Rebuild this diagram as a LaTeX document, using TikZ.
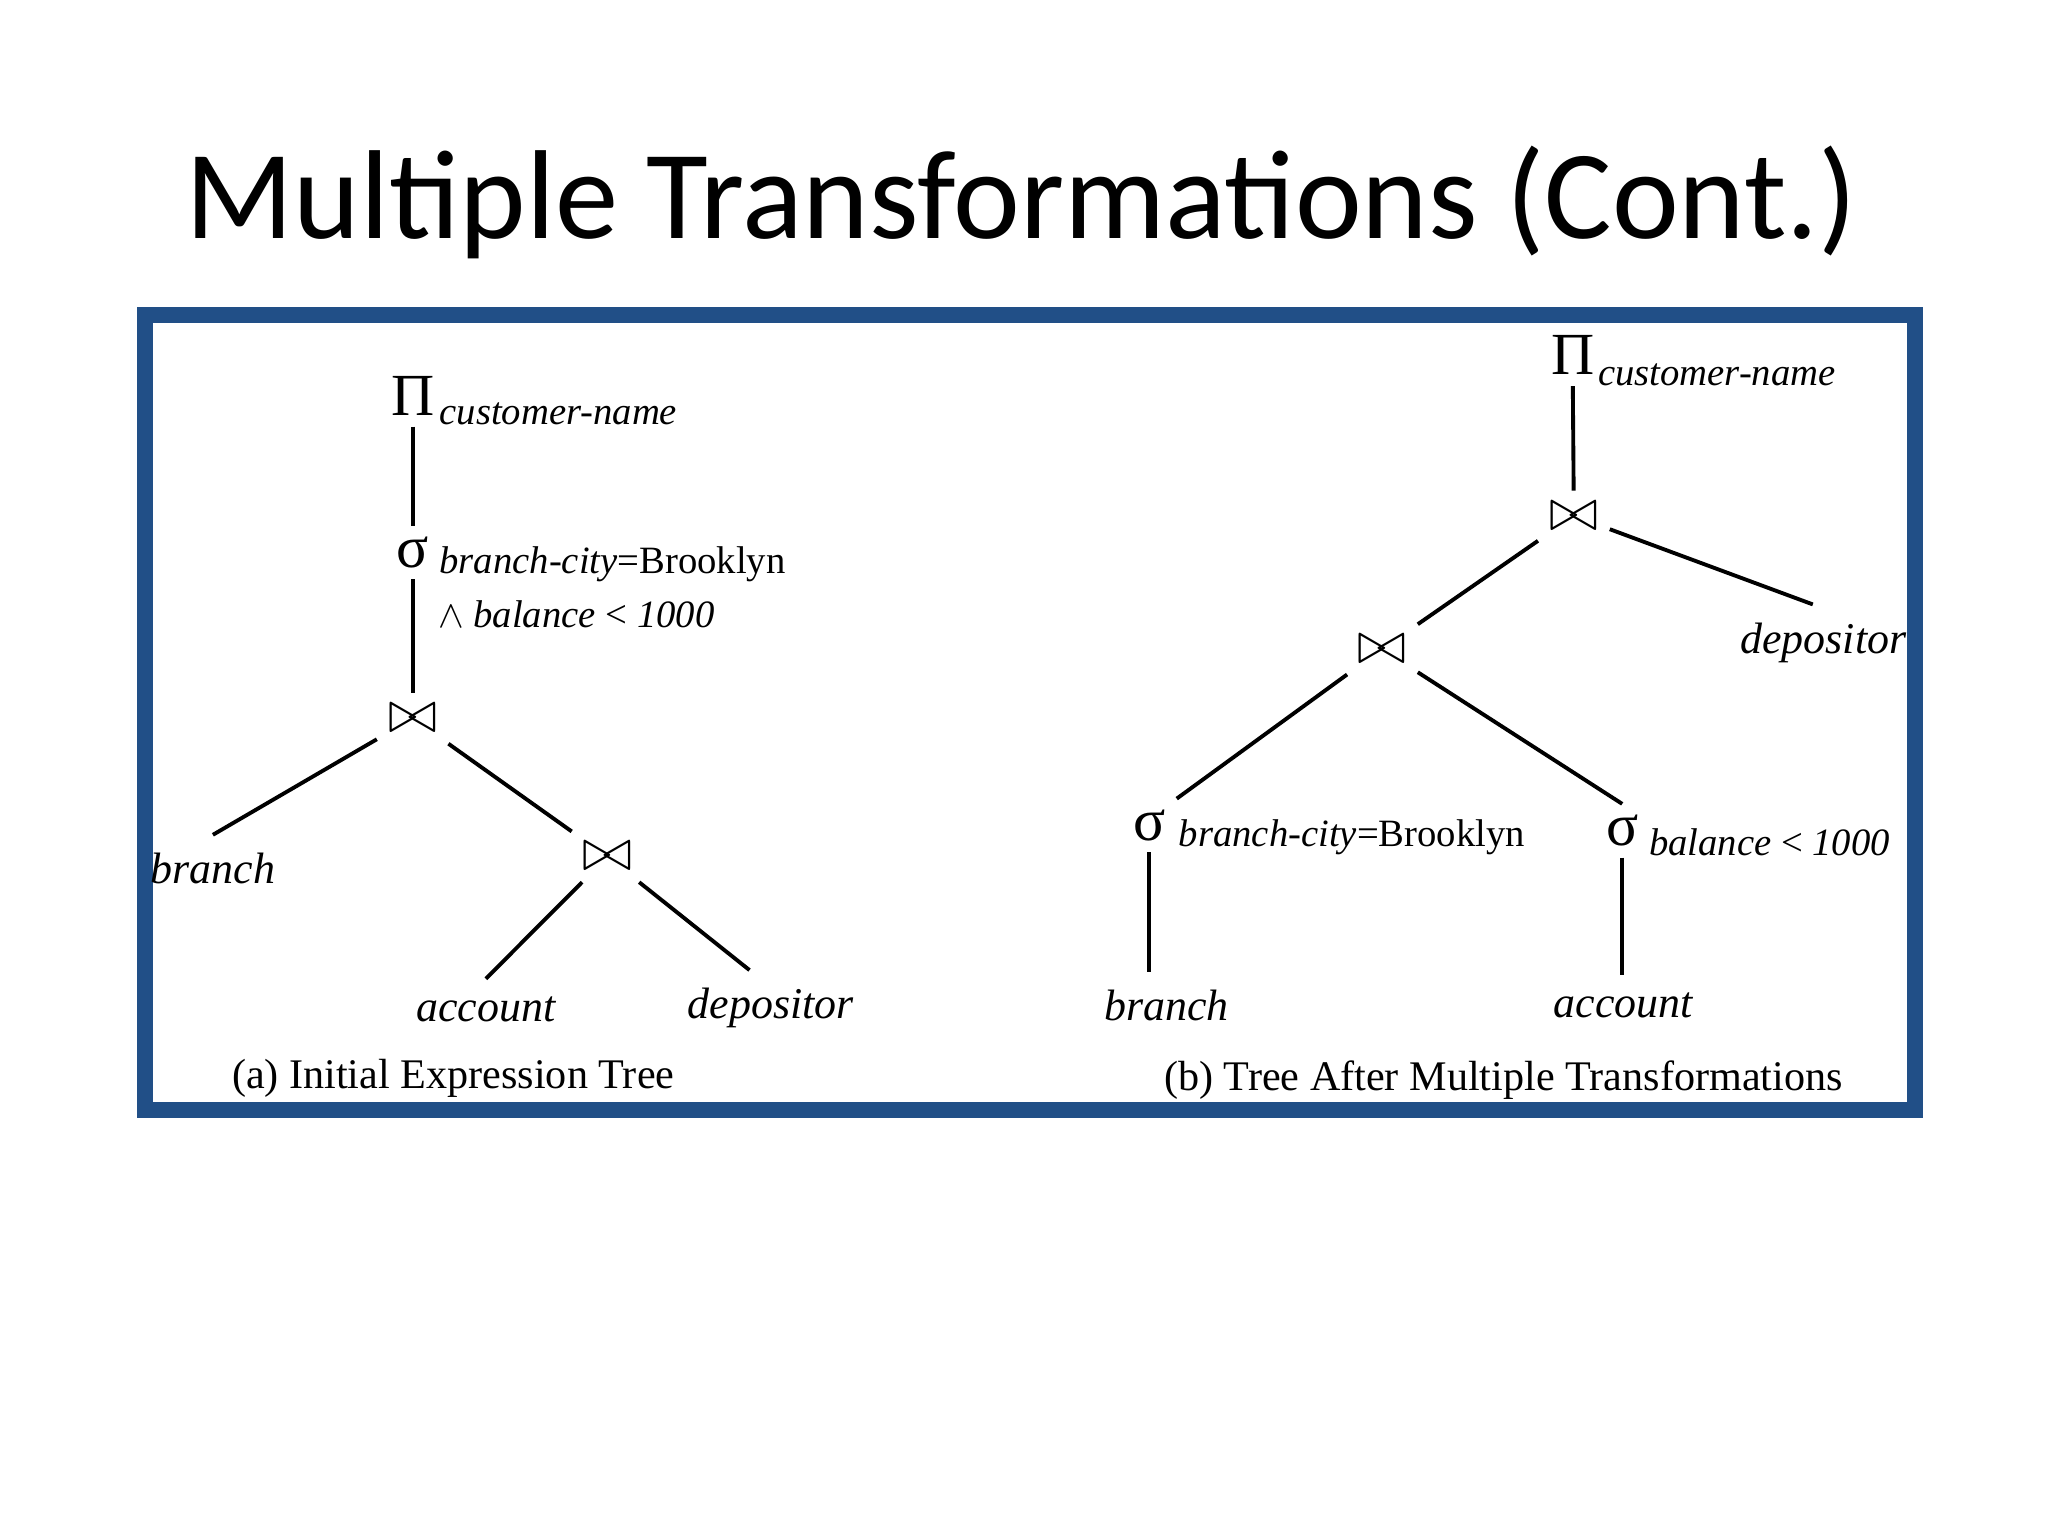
\documentclass[tikz,border=0pt]{standalone}
\usepackage{fontspec}
\setmainfont{Liberation Serif}
\newfontfamily\titlefont{Carlito}
\usepackage{tikz}
\usetikzlibrary{positioning}
\definecolor{framecolor}{RGB}{33, 79, 135}

\begin{document}
\begin{tikzpicture}[x=0.01306cm, y=-0.01306cm,
    opnode/.style={inner sep=3pt, font=\fontsize{17}{17}\selectfont},
    joinnode/.style={inner sep=3pt, font=\fontsize{19}{19}\selectfont},
    cond/.style={anchor=west, inner sep=0pt, font=\fontsize{11}{13}\selectfont},
    leaf/.style={inner sep=5pt, font=\fontsize{12.5}{14}\selectfont\itshape},
    caption/.style={font=\fontsize{12}{14}\selectfont},
    edge/.style={line width=1.1pt}]
        \useasboundingbox (0,0) rectangle (1568,1176);
        
        % Title
        \node[font=\titlefont\fontsize{36}{40}\selectfont] (title) at (782,155) {Multiple Transformations (Cont.)};
        
        % Frame
        \draw[framecolor, line width=4.6pt] (111,241) rectangle (1466,850);
        
        % (a) Initial expression tree
        \node[opnode] (pa) at (316,303) {Π};
        \node[cond] (pacond) at (336,317) {\itshape customer-name};
        \node[opnode] (sa) at (316,423) {σ};
        \node[cond] (sacond) at (336,432) {\itshape branch-city\upshape =Brooklyn};
        \node[cond] (sacond2) at (335,470) {$\wedge$\ \itshape balance \upshape< \itshape 1000};
        \node[joinnode] (ja) at (316,550) {$\bowtie$};
        \node[leaf] (branchA) at (163,665) {branch};
        \node[joinnode] (jb) at (465,656) {$\bowtie$};
        \node[leaf] (accountA) at (372,773) {account};
        \node[leaf] (depositorA) at (590,772) {depositor};
        
        \draw[edge] (pa) -- (sa);
        \draw[edge] (sa) -- (ja);
        \draw[edge] (ja) -- (branchA.north);
        \draw[edge] (ja) -- (jb);
        \draw[edge] (jb) -- (accountA.north);
        \draw[edge] (jb) -- ([xshift=-6pt]depositorA.north);
        
        \node[caption] (capA) at (347,826) {(a) Initial Expression Tree};
        
        % (b) Tree after multiple transformations
        \node[opnode] (pb) at (1204,272) {Π};
        \node[cond] (pbcond) at (1223,287) {\itshape customer-name};
        \node[joinnode] (jc) at (1205,395) {$\bowtie$};
        \node[leaf] (depositorB) at (1396,492) {depositor};
        \node[joinnode] (jd) at (1058,497) {$\bowtie$};
        \node[opnode] (sb) at (880,632) {σ};
        \node[cond] (sbcond) at (902,641) {\itshape branch-city\upshape =Brooklyn};
        \node[opnode] (sc) at (1242,636) {σ};
        \node[cond] (sccond) at (1262,645) {\itshape balance \upshape< \itshape 1000};
        \node[leaf] (branchB) at (893,770) {branch};
        \node[leaf] (accountB) at (1243,770) {account};
        
        \draw[edge] (pb) -- (jc);
        \draw[edge] (jc) -- (jd);
        \draw[edge] (jc) -- ([xshift=-3pt]depositorB.north);
        \draw[edge] (jd) -- (sb.north east);
        \draw[edge] (jd) -- (sc.north);
        \draw[edge] (sb) -- (sb |- branchB.north);
        \draw[edge] (sc) -- (sc |- accountB.north);
        
        \node[caption] (capB) at (1151,827) {(b) Tree After Multiple Transformations};
        
    \end{tikzpicture}
\end{document}
